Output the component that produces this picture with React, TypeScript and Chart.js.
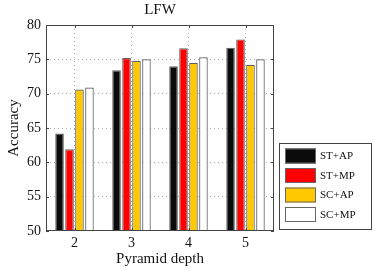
import React, { useEffect, useRef } from "react";
import { Chart, registerables } from "chart.js";

Chart.register(...registerables);

const categories = ["2", "3", "4", "5"];
const seriesNames = ["ST+AP", "ST+MP", "SC+AP", "SC+MP"];
const stAp = [64.2, 73.4, 74.0, 76.7];
const stMp = [61.9, 75.2, 76.6, 77.9];
const scAp = [70.6, 74.8, 74.5, 74.2];
const scMp = [70.9, 75.0, 75.3, 75.0];
const yTicks = [50, 55, 60, 65, 70, 75, 80];
const colors = ["#0b0b0b", "#ff0000", "#ffc800", "#ffffff"];

const FONT = "'Liberation Serif', 'Times New Roman', serif";

const boxPlugin = {
  id: "boxAndLegend",
  afterDraw(chart: any) {
    const { ctx, chartArea } = chart;
    const { left, right, top, bottom } = chartArea;
    ctx.save();
    ctx.strokeStyle = "#444";
    ctx.lineWidth = 1;
    ctx.strokeRect(left + 0.5, top + 0.5, right - left - 1, bottom - top - 1);
    const ys = chart.scales.y;
    const xs = chart.scales.x;
    ctx.beginPath();
    yTicks.forEach((v) => {
      const py = Math.round(ys.getPixelForValue(v)) + 0.5;
      ctx.moveTo(left, py);
      ctx.lineTo(left + 3, py);
      ctx.moveTo(right, py);
      ctx.lineTo(right - 3, py);
    });
    categories.forEach((_, i) => {
      const px = Math.round(xs.getPixelForTick(i)) + 0.5;
      ctx.moveTo(px, bottom);
      ctx.lineTo(px, bottom - 3);
      ctx.moveTo(px, top);
      ctx.lineTo(px, top + 3);
    });
    ctx.stroke();

    ctx.fillStyle = "#111";
    ctx.font = `15px ${FONT}`;
    ctx.textAlign = "center";
    ctx.textBaseline = "alphabetic";
    ctx.fillText("LFW", (left + right) / 2, 14);

    const lx = right + 5;
    const lw = 92;
    const lb = bottom - 2;
    const lt = lb - 86;
    ctx.fillStyle = "#fff";
    ctx.fillRect(lx, lt, lw, lb - lt);
    ctx.strokeStyle = "#444";
    ctx.strokeRect(lx + 0.5, lt + 0.5, lw, lb - lt);
    ctx.font = `11px ${FONT}`;
    ctx.textAlign = "left";
    ctx.textBaseline = "middle";
    chart.data.datasets.forEach((ds: any, i: number) => {
      const cy = lt + 13 + i * 19.5;
      ctx.fillStyle = ds.backgroundColor;
      ctx.fillRect(lx + 6, cy - 7.5, 31, 15);
      ctx.strokeStyle = "#666";
      ctx.strokeRect(lx + 6.5, cy - 7, 30, 14);
      ctx.fillStyle = "#111";
      ctx.fillText(ds.label, lx + 41, cy + 0.5);
    });
    ctx.restore();
  },
};

export default function App() {
  const ref = useRef<HTMLCanvasElement>(null);
  useEffect(() => {
    const values = [stAp, stMp, scAp, scMp];
    const chart = new Chart(ref.current!, {
      type: "bar",
      data: {
        labels: categories,
        datasets: values.map((v, i) => ({
          label: seriesNames[i],
          data: v,
          backgroundColor: colors[i],
          borderColor: "#5e5e5e",
          borderWidth: 1.2,
          barPercentage: 0.86,
          categoryPercentage: 0.7,
        })),
      },
      options: {
        animation: false,
        responsive: false,
        maintainAspectRatio: false,
        layout: { padding: { top: 25, right: 100, left: 0, bottom: 0 } },
        plugins: {
          legend: { display: false },
          title: { display: false },
          tooltip: { enabled: false },
        },
        scales: {
          x: {
            offset: true,
            grid: {
              offset: false,
              color: "#b0b0b0",
              drawTicks: false,
            },
            border: { display: false, dash: [1, 3] },
            ticks: {
              color: "#111",
              font: { family: FONT, size: 14 },
              padding: 4,
            },
            title: {
              display: true,
              text: "Pyramid depth",
              color: "#111",
              font: { family: FONT, size: 15 },
              padding: { top: 0, bottom: 3 },
            },
            afterFit: (s: any) => {
              s.height = 40;
            },
          },
          y: {
            min: 50,
            max: 80,
            afterBuildTicks: (s: any) => {
              s.ticks = yTicks.map((v) => ({ value: v }));
            },
            grid: {
              color: (c: any) =>
                c.tick && (c.tick.value === 50 || c.tick.value === 80)
                  ? "rgba(0,0,0,0)"
                  : "#b0b0b0",
              drawTicks: false,
            },
            border: { display: false, dash: [1, 3] },
            ticks: {
              color: "#111",
              font: { family: FONT, size: 14 },
              padding: 5,
            },
            title: {
              display: true,
              text: "Accuracy",
              color: "#111",
              font: { family: FONT, size: 15 },
              padding: { top: 5.5, bottom: 0 },
            },
            afterFit: (s: any) => {
              s.width = 46;
            },
          },
        },
      },
      plugins: [boxPlugin],
    });
    return () => chart.destroy();
  }, []);
  return (
    <div style={{ position: "fixed", left: 0, top: 0, width: 374, height: 271, background: "#fff" }}>
      <canvas ref={ref} width={374} height={271} style={{ width: 374, height: 271 }} />
    </div>
  );
}
